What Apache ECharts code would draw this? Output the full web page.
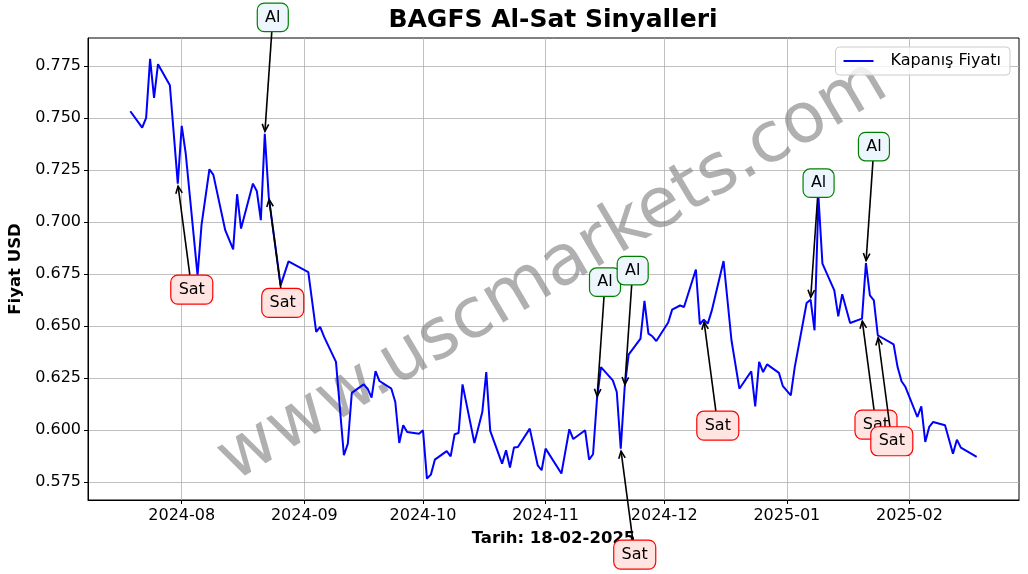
<!DOCTYPE html>
<html><head><meta charset="utf-8">
<script src="https://cdn.jsdelivr.net/npm/echarts@6/dist/echarts.min.js"></script>
<style>html,body{margin:0;padding:0;background:#fff}#c{width:1028px;height:574px}</style>
</head><body><div id="c"></div>
<script>
const dates = ['2024-07-19','2024-07-22','2024-07-23','2024-07-24','2024-07-25','2024-07-26','2024-07-29','2024-07-31','2024-08-01','2024-08-02',
'2024-08-05','2024-08-06','2024-08-08','2024-08-09','2024-08-12','2024-08-14','2024-08-15','2024-08-16','2024-08-19','2024-08-20',
'2024-08-21','2024-08-22','2024-08-23','2024-08-26','2024-08-28','2024-09-02','2024-09-04','2024-09-05','2024-09-06','2024-09-09',
'2024-09-11','2024-09-12','2024-09-13','2024-09-16','2024-09-17','2024-09-18','2024-09-19','2024-09-20','2024-09-23','2024-09-24',
'2024-09-25','2024-09-26','2024-09-27','2024-09-30','2024-10-01','2024-10-02','2024-10-03','2024-10-04','2024-10-07','2024-10-08',
'2024-10-09','2024-10-10','2024-10-11','2024-10-14','2024-10-16','2024-10-17','2024-10-18','2024-10-21','2024-10-22','2024-10-23',
'2024-10-24','2024-10-25','2024-10-28','2024-10-30','2024-10-31','2024-11-01','2024-11-05','2024-11-07','2024-11-08','2024-11-11',
'2024-11-12','2024-11-13','2024-11-14','2024-11-15','2024-11-18','2024-11-19','2024-11-20','2024-11-21','2024-11-22','2024-11-25',
'2024-11-26','2024-11-27','2024-11-28','2024-11-29','2024-12-02','2024-12-03','2024-12-05','2024-12-06','2024-12-09','2024-12-10',
'2024-12-11','2024-12-12','2024-12-13','2024-12-16','2024-12-18','2024-12-20','2024-12-23','2024-12-24','2024-12-25','2024-12-26',
'2024-12-27','2024-12-30','2024-12-31','2025-01-02','2025-01-03','2025-01-06','2025-01-07','2025-01-08','2025-01-09','2025-01-10',
'2025-01-13','2025-01-14','2025-01-15','2025-01-17','2025-01-20','2025-01-21','2025-01-22','2025-01-23','2025-01-24','2025-01-28',
'2025-01-29','2025-01-30','2025-01-31','2025-02-03','2025-02-04','2025-02-05','2025-02-06','2025-02-07','2025-02-10','2025-02-12',
'2025-02-13','2025-02-14','2025-02-18'];
const closes = [0.7534,0.7455,0.7502,0.7786,0.7598,0.7760,0.7659,0.7186,0.7464,0.7332,
0.6745,0.6986,0.7255,0.7228,0.6962,0.6870,0.7135,0.6970,0.7186,0.7149,
0.7010,0.7425,0.7122,0.6697,0.6812,0.6761,0.6473,0.6497,0.6449,0.6329,
0.5880,0.5936,0.6180,0.6221,0.6200,0.6157,0.6285,0.6237,0.6200,0.6136,
0.5939,0.6024,0.5992,0.5984,0.6000,0.5768,0.5787,0.5859,0.5900,0.5875,
0.5981,0.5987,0.6221,0.5939,0.6088,0.6280,0.5997,0.5840,0.5904,0.5821,
0.5917,0.5920,0.6008,0.5832,0.5808,0.5912,0.5792,0.6005,0.5958,0.6000,
0.5859,0.5885,0.6152,0.6304,0.6240,0.6184,0.5912,0.6208,0.6364,0.6441,
0.6622,0.6465,0.6452,0.6429,0.6518,0.6580,0.6600,0.6593,0.6773,0.6510,
0.6532,0.6513,0.6574,0.6814,0.6433,0.6200,0.6284,0.6115,0.6329,0.6280,
0.6317,0.6276,0.6212,0.6168,0.6304,0.6612,0.6628,0.6481,0.7120,0.6801,
0.6673,0.6548,0.6654,0.6516,0.6537,0.6804,0.6649,0.6625,0.6457,0.6413,
0.6304,0.6236,0.6208,0.6064,0.6115,0.5944,0.6016,0.6040,0.6024,0.5888,
0.5955,0.5917,0.5872];
const buyDates = ['2024-08-22','2024-11-14','2024-11-21','2025-01-07','2025-01-21'];
const sellDates = ['2024-07-31','2024-08-23','2024-11-20','2024-12-11','2025-01-20','2025-01-24'];
const yTicks = [0.575,0.600,0.625,0.650,0.675,0.700,0.725,0.750,0.775];
const xTicks = ['2024-08-01','2024-09-01','2024-10-01','2024-11-01','2024-12-01','2025-01-01','2025-02-01'];
const titleText = 'BAGFS Al-Sat Sinyalleri';
const seriesName = 'Kapanış Fiyatı';
const xName = 'Tarih: 18-02-2025';
const yName = 'Fiyat USD';
const watermark = 'www.uscmarkets.com';

function parseD(s){const p=s.split('-');return Date.UTC(+p[0],+p[1]-1,+p[2]);}
const priceData = dates.map((d,i)=>[parseD(d),closes[i]]);
const lookup = d => [parseD(d), closes[dates.indexOf(d)]];
const buyData = buyDates.map(lookup);
const sellData = sellDates.map(lookup);
const tMin = parseD(dates[0]), tMax = parseD(dates[dates.length-1]);
const tPad = (tMax - tMin) * 0.05;
const FONT = 'DejaVu Sans';

function makeRender(cfg){
  return function(params, api){
    const p = api.coord([api.value(0), api.value(1)]);
    const cx = p[0] + cfg.dx, cy = p[1] + cfg.dy, w = cfg.w, h = cfg.h;
    const vx = p[0]-cx, vy = p[1]-cy, len = Math.hypot(vx,vy);
    const ux = vx/len, uy = vy/len;
    const t = Math.min((h/2)/Math.max(Math.abs(vy),1e-9), (w/2)/Math.max(Math.abs(vx),1e-9));
    const sx = cx + vx*t, sy = cy + vy*t;
    const ex = p[0] - ux*2.5, ey = p[1] - uy*2.5;
    const hl = 8, ang = 0.42;
    const rot = (a)=>[ux*Math.cos(a)-uy*Math.sin(a), ux*Math.sin(a)+uy*Math.cos(a)];
    const r1 = rot(ang), r2 = rot(-ang);
    return {type:'group', children:[
      {type:'line', shape:{x1:sx,y1:sy,x2:ex,y2:ey}, style:{stroke:'#000', lineWidth:1.6}},
      {type:'polyline', shape:{points:[[ex-hl*r1[0], ey-hl*r1[1]],[ex,ey],[ex-hl*r2[0], ey-hl*r2[1]]]}, style:{stroke:'#000', lineWidth:1.6, fill:null}},
      {type:'rect', shape:{x:cx-w/2, y:cy-h/2, width:w, height:h, r:7}, style:{fill:cfg.fill, stroke:cfg.stroke, lineWidth:1.2}},
      {type:'text', style:{x:cx, y:cy, text:cfg.text, align:'center', verticalAlign:'middle', fontSize:16, fontFamily:FONT, fill:'#000'}}
    ]};
  };
}

const chart = echarts.init(document.getElementById('c'), null, {renderer:'canvas'});
chart.setOption({
  animation:false,
  backgroundColor:'#fff',
  title:{text:titleText, left:553, top:8, padding:0, textAlign:'center',
    textStyle:{fontSize:25, fontWeight:'bold', fontFamily:FONT, color:'#000'}},
  legend:{data:[{name:seriesName, icon:'rect'}], right:18, top:47, orient:'vertical',
    padding:[6,9,6,8], itemWidth:30, itemHeight:2, borderColor:'#cccccc', borderWidth:1, borderRadius:4,
    backgroundColor:'rgba(255,255,255,0.8)',
    textStyle:{fontSize:16, fontFamily:FONT, color:'#000', padding:[0,0,0,12]}},
  grid:{left:88, right:9, top:38, bottom:74, show:true, borderColor:'#000', borderWidth:1, containLabel:false, outerBoundsMode:'none'},
  xAxis:{type:'value', min:tMin - tPad, max:tMax + tPad, scale:true,
    name:xName, nameLocation:'middle', nameGap:30,
    nameTextStyle:{fontSize:16.5, fontWeight:'bold', fontFamily:FONT, color:'#000'},
    axisLine:{lineStyle:{color:'#000', width:1}},
    axisTick:{show:true, length:4, lineStyle:{color:'#000', width:1}, customValues:xTicks.map(parseD)},
    axisLabel:{fontSize:16, fontFamily:FONT, color:'#000', margin:8, customValues:xTicks.map(parseD),
      formatter:function(v){const d=new Date(v);return d.getUTCFullYear()+'-'+String(d.getUTCMonth()+1).padStart(2,'0');}},
    splitLine:{show:true, lineStyle:{color:'#b0b0b0', width:0.8}}},
  yAxis:{type:'value', min:0.5665, max:0.7886,
    name:yName, nameLocation:'middle', nameGap:62,
    nameTextStyle:{fontSize:16.5, fontWeight:'bold', fontFamily:FONT, color:'#000'},
    axisLine:{show:true, lineStyle:{color:'#000', width:1}},
    axisTick:{show:true, length:4, lineStyle:{color:'#000', width:1}, customValues:yTicks},
    axisLabel:{fontSize:16, fontFamily:FONT, color:'#000', margin:7, customValues:yTicks,
      formatter:function(v){return v.toFixed(3);}},
    splitLine:{show:true, lineStyle:{color:'#b0b0b0', width:0.8}}},
  graphic:[{type:'text', x:553, y:272, rotation:0.534, z:1,
    style:{text:watermark, fontSize:70, fontFamily:FONT, fill:'rgba(128,128,128,0.62)', align:'center', verticalAlign:'middle'}}],
  series:[
    {name:seriesName, type:'line', data:priceData, showSymbol:false, symbol:'none', z:2,
      lineStyle:{color:'#0000ff', width:2}, itemStyle:{color:'#0000ff'}},
    {type:'custom', data:sellData, z:5, clip:false, encode:{x:0,y:1},
      renderItem:makeRender({dx:14, dy:106, w:42, h:29, text:'Sat', fill:'#ffe4e1', stroke:'#ff0000'})},
    {type:'custom', data:buyData, z:5, clip:false, encode:{x:0,y:1},
      renderItem:makeRender({dx:8, dy:-116.5, w:31, h:28.5, text:'Al', fill:'#eef6fd', stroke:'#008000'})}
  ]
});
</script></body></html>
